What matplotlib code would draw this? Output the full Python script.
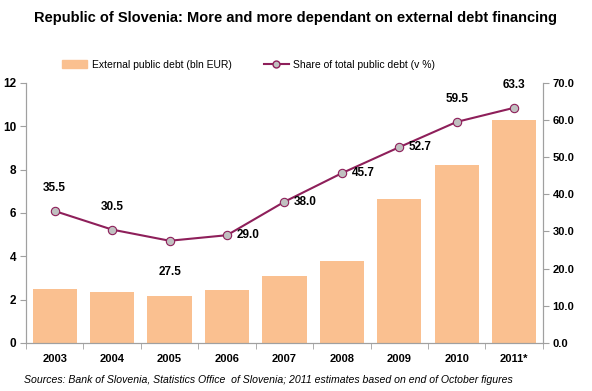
import matplotlib

matplotlib.use("Agg")
import matplotlib.pyplot as plt  # noqa: E402
import numpy as np
from matplotlib.lines import Line2D
from matplotlib.patches import Patch
from matplotlib.ticker import FormatStrFormatter

plt.rcParams["font.family"] = ["Liberation Sans", "DejaVu Sans"]

years = ["2003", "2004", "2005", "2006", "2007", "2008", "2009", "2010", "2011*"]
external_debt = [2.5, 2.35, 2.17, 2.44, 3.08, 3.77, 6.62, 8.22, 10.3]
share_pct = [35.5, 30.5, 27.5, 29.0, 38.0, 45.7, 52.7, 59.5, 63.3]
# where each share label sits relative to its point
label_pos = ["above", "above", "below", "right", "right", "right", "right", "above", "above"]

BAR = "#FAC090"
LINE = "#8E1F5A"
SPINE = "#A0A0A0"

fig = plt.figure(figsize=(5.92, 3.91), dpi=100)
ax = fig.add_axes([0.044, 0.123, 0.873, 0.665])
ax2 = ax.twinx()

x = np.arange(len(years))
ax.bar(x, external_debt, width=0.77, color=BAR, zorder=2)
ax.set_xlim(-0.5, len(years) - 0.5)
ax.set_ylim(0, 12)
ax.set_yticks(range(0, 13, 2))
ax.set_xticks(x)
ax.set_xticklabels(years, fontsize=8, fontweight="bold")
ax.set_xticks(np.arange(-0.5, len(years), 1), minor=True)
ax.tick_params(axis="x", which="major", length=0, pad=8)
ax.tick_params(axis="x", which="minor", length=4, color=SPINE)
ax.tick_params(axis="y", labelsize=8.5, length=4, color=SPINE, pad=3)
for lab in ax.get_yticklabels():
    lab.set_fontweight("bold")

ax2.plot(x, share_pct, color=LINE, lw=1.5, marker="o", ms=6,
         mfc="#C0C0C0", mec=LINE, mew=0.8, zorder=3)
ax2.set_ylim(0, 70)
ax2.set_yticks(range(0, 71, 10))
ax2.yaxis.set_major_formatter(FormatStrFormatter("%.1f"))
ax2.tick_params(axis="y", labelsize=8, length=4, color=SPINE, pad=3)
for lab in ax2.get_yticklabels():
    lab.set_fontweight("bold")

for xi, v, pos in zip(x, share_pct, label_pos):
    if pos == "above":
        ax2.annotate(f"{v:.1f}", (xi, v), xytext=(0, 12), textcoords="offset points",
                     ha="center", va="bottom", fontsize=8.5, fontweight="bold")
    elif pos == "below":
        ax2.annotate(f"{v:.1f}", (xi, v), xytext=(0, -18), textcoords="offset points",
                     ha="center", va="top", fontsize=8.5, fontweight="bold")
    else:
        ax2.annotate(f"{v:.1f}", (xi, v), xytext=(7, 0), textcoords="offset points",
                     ha="left", va="center", fontsize=8.5, fontweight="bold")

for a in (ax, ax2):
    a.spines["top"].set_visible(False)
    for s in ("left", "right", "bottom"):
        a.spines[s].set_color(SPINE)

fig.text(0.5, 0.955, "Republic of Slovenia: More and more dependant on external debt financing",
         ha="center", va="center", fontsize=10.5, fontweight="bold")

handles = [Patch(color=BAR, label="External public debt (bln EUR)"),
           Line2D([], [], color=LINE, lw=1.5, marker="o", ms=5, mfc="#C0C0C0",
                  mec=LINE, label="Share of total public debt (v %)")]
fig.legend(handles=handles, loc="center", bbox_to_anchor=(0.42, 0.835), ncol=2,
           frameon=False, fontsize=7.5, handlelength=2.4, handletextpad=0.4,
           columnspacing=3.1)

fig.text(0.453, 0.027, "Sources: Bank of Slovenia, Statistics Office  of Slovenia; 2011 estimates based on end of October figures",
         ha="center", va="center", fontsize=7.6, style="italic")

fig.savefig("out.png", dpi=100)
